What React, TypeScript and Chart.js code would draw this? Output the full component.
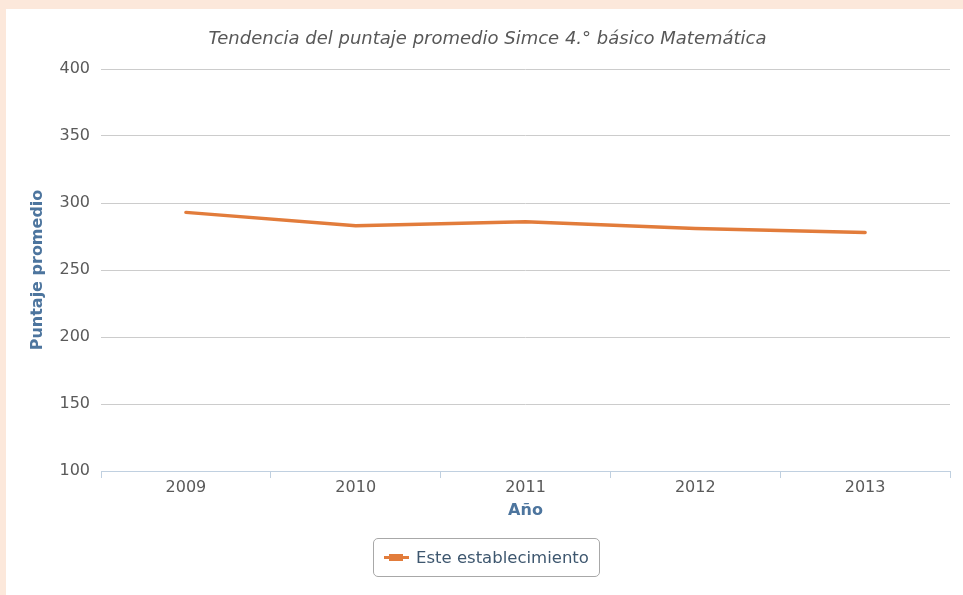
import React, { useEffect, useRef } from "react";
import { Chart, registerables } from "chart.js";

Chart.register(...registerables);

const years = ["2009", "2010", "2011", "2012", "2013"];
const scores = [293, 283, 286, 281, 278];
const seriesName = "Este establecimiento";
const chartTitle = "Tendencia del puntaje promedio Simce 4.° básico Matemática";
const yTitle = "Puntaje promedio";
const xTitle = "Año";
const yMin = 100;
const yMax = 400;
const yStep = 50;

const ORANGE = "#e27c3b";
const FONT = "'DejaVu Sans', sans-serif";

export default function App() {
  const ref = useRef<HTMLCanvasElement | null>(null);

  useEffect(() => {
    if (!ref.current) return;
    const chart = new Chart(ref.current, {
      type: "line",
      data: {
        labels: years,
        datasets: [
          {
            label: seriesName,
            data: scores,
            borderColor: ORANGE,
            backgroundColor: ORANGE,
            borderWidth: 3.5,
            pointRadius: 0,
            pointHoverRadius: 0,
            tension: 0,
            borderCapStyle: "round",
          },
        ],
      },
      options: {
        animation: false,
        responsive: true,
        maintainAspectRatio: false,
        layout: { padding: { left: 19, right: 13, top: 0, bottom: 75 } },
        plugins: {
          legend: { display: false },
          tooltip: { enabled: false },
          title: {
            display: true,
            text: chartTitle,
            color: "#585858",
            font: { family: FONT, size: 18, style: "italic", weight: "normal" },
            padding: { top: 20, bottom: 18.4 },
          },
        },
        scales: {
          x: {
            offset: true,
            grid: {
              display: true,
              drawOnChartArea: false,
              drawTicks: true,
              tickLength: 7,
              color: "#c0d0e0",
              offset: true,
            },
            border: { display: true, color: "#c0d0e0", width: 1 },
            ticks: {
              color: "#5a5a5a",
              padding: 0,
              font: { family: FONT, size: 16 },
            },
            title: {
              display: true,
              text: xTitle,
              color: "#4d759e",
              font: { family: FONT, size: 16, weight: "bold" },
              padding: { top: 0, bottom: 0 },
            },
            afterFit: (scale: any) => {
              scale.height = 49;
            },
          },
          y: {
            min: yMin,
            max: yMax,
            grid: {
              drawTicks: false,
              color: (ctx: any) =>
                ctx.tick && ctx.tick.value === yMin ? "rgba(0,0,0,0)" : "#cccccc",
              lineWidth: 1,
            },
            border: { display: false },
            ticks: {
              stepSize: yStep,
              color: "#5a5a5a",
              padding: 11,
              font: { family: FONT, size: 16 },
            },
            title: {
              display: true,
              text: yTitle,
              color: "#4d759e",
              font: { family: FONT, size: 16, weight: "bold" },
              padding: { top: 3.4, bottom: 0 },
            },
            afterFit: (scale: any) => {
              scale.width = 76;
            },
          },
        },
      },
    });
    return () => chart.destroy();
  }, []);

  return (
    <div
      style={{
        position: "absolute",
        left: 0,
        top: 0,
        width: 963,
        height: 595,
        background: "#fce8db",
        overflow: "hidden",
      }}
    >
      <div
        style={{
          position: "absolute",
          left: 6,
          top: 9,
          width: 957,
          height: 586,
          background: "#ffffff",
        }}
      >
        <canvas ref={ref} />
      </div>
      <div
        style={{
          position: "absolute",
          left: 373,
          top: 538,
          width: 225,
          height: 37,
          border: "1px solid #a8a8a8",
          borderRadius: 5,
          background: "#ffffff",
          fontFamily: FONT,
          fontSize: 16.5,
          color: "#3e576f",
          boxSizing: "content-box",
        }}
      >
        <div
          style={{
            position: "absolute",
            left: 10,
            top: 17,
            width: 25,
            height: 3,
            background: ORANGE,
          }}
        />
        <div
          style={{
            position: "absolute",
            left: 15,
            top: 15,
            width: 14,
            height: 7,
            background: ORANGE,
          }}
        />
        <div
          style={{
            position: "absolute",
            left: 42,
            top: 0,
            height: 37,
            lineHeight: "37px",
            whiteSpace: "nowrap",
          }}
        >
          {seriesName}
        </div>
      </div>
    </div>
  );
}
